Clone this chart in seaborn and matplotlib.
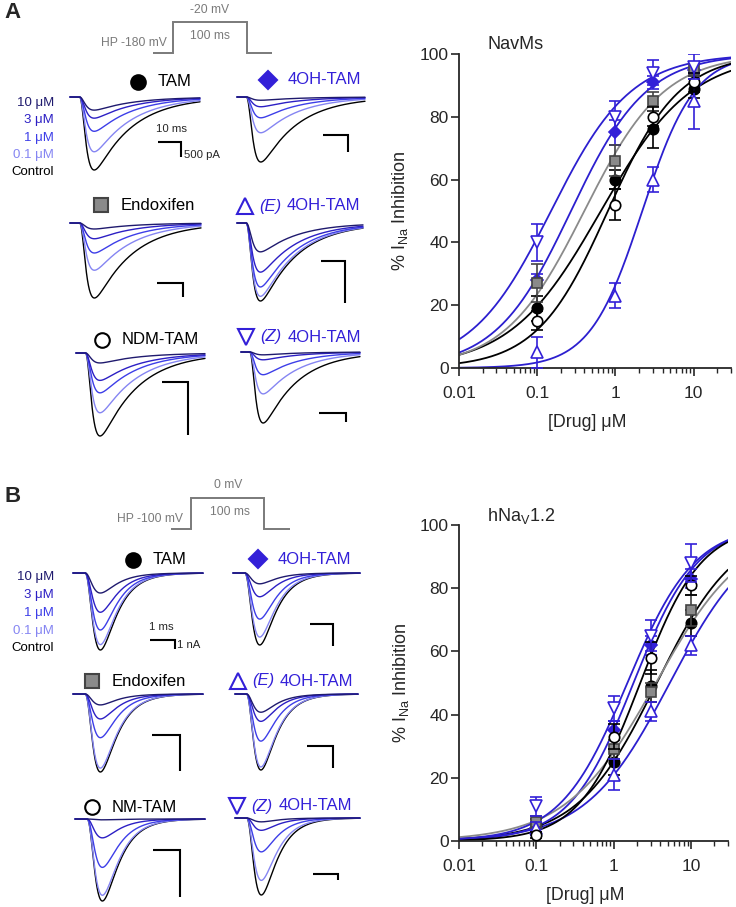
import numpy as np
import pandas as pd
import matplotlib
matplotlib.use('Agg')
import matplotlib.pyplot as plt
from matplotlib.ticker import FixedLocator, FixedFormatter, LogLocator, NullFormatter
import seaborn as sns

sns.set_style('ticks')
plt.rcParams['font.family'] = ['Liberation Sans', 'DejaVu Sans']
plt.rcParams['mathtext.fontset'] = 'custom'
plt.rcParams['mathtext.rm'] = 'Liberation Sans'
plt.rcParams['mathtext.it'] = 'Liberation Sans:italic'

W, H = 736, 907

#region data
conc = [0.1, 1, 3, 10]
trace_levels = ['Control', '0.1 μM', '1 μM', '3 μM', '10 μM']

navms_drugs = ['TAM', '4OH-TAM', 'Endoxifen', '(E) 4OH-TAM', 'NDM-TAM', '(Z) 4OH-TAM']
hnav_drugs = ['TAM', '4OH-TAM', 'Endoxifen', '(E) 4OH-TAM', 'NM-TAM', '(Z) 4OH-TAM']

# % inhibition, rows follow the drug lists
navms_mean = np.array([
    [19, 60, 76, 89],
    [28, 75, 91, 95],
    [27, 66, 85, 95],
    [5, 23, 60, 85],
    [15, 52, 80, 91],
    [40, 80, 94, 96],
])
navms_sem = np.array([
    [4, 3, 6, 3],
    [2, 4, 2, 2],
    [6, 5, 3, 2],
    [5, 4, 4, 9],
    [3, 5, 3, 3],
    [6, 5, 4, 4],
])
navms_ic50 = [0.65, 0.27, 0.4, 2.2, 0.8, 0.15]
navms_hill = [0.75, 0.9, 0.85, 1.3, 0.95, 0.85]

hnav_mean = np.array([
    [5, 25, 49, 69],
    [4, 35, 62, 83],
    [6, 29, 47, 73],
    [4, 21, 41, 62],
    [2, 33, 58, 81],
    [11, 42, 65, 88],
])
hnav_sem = np.array([
    [2, 4, 5, 4],
    [2, 3, 3, 3],
    [2, 3, 3, 5],
    [2, 5, 3, 3],
    [1, 4, 5, 3],
    [3, 4, 5, 6],
])
hnav_ic50 = [3.6, 1.8, 3.5, 5.3, 2.2, 1.5]
hnav_hill = [0.85, 1.05, 0.75, 0.8, 1.1, 1.0]

# representative current traces: peak amplitude relative to control
navms_trace_amp = np.array([
    [1, 0.75, 0.47, 0.29, 0.18],
    [1, 0.55, 0.32, 0.15, 0.05],
    [1, 0.63, 0.40, 0.21, 0.08],
    [1, 0.94, 0.82, 0.63, 0.37],
    [1, 0.72, 0.48, 0.33, 0.12],
    [1, 0.59, 0.32, 0.11, 0.04],
])
hnav_trace_amp = np.array([
    [1, 0.93, 0.74, 0.51, 0.26],
    [1, 0.89, 0.64, 0.33, 0.15],
    [1, 0.95, 0.56, 0.32, 0.14],
    [1, 0.96, 0.62, 0.36, 0.24],
    [1, 0.93, 0.59, 0.23, 0.01],
    [1, 0.81, 0.44, 0.16, 0.05],
])
# gating kinetics (ms): window, onset, tau_m, tau_h
navms_kin = [56, 4, 2.0, 16]
hnav_kin = [5.5, 0.5, 0.33, 0.7]
#endregion data

BLUE = '#3320d8'
CURVE_BLUE = '#2c1fcf'
GREY = '#8a8a8a'
trace_pal = dict(zip(trace_levels, ['black', '#8585f2', '#3d3ee8', '#2c1fc4', '#1f1a6e']))

styles = [
    dict(marker='o', mfc='black', mec='black', ms=7.5, ec='black', lc='black'),
    dict(marker='D', mfc=BLUE, mec=BLUE, ms=6.5, ec=BLUE, lc=CURVE_BLUE),
    dict(marker='s', mfc=GREY, mec='#444444', ms=7, ec='#444444', lc=GREY),
    dict(marker='^', mfc='white', mec=BLUE, ms=8, ec=BLUE, lc=CURVE_BLUE),
    dict(marker='o', mfc='white', mec='black', ms=7.5, ec='black', lc='black'),
    dict(marker='v', mfc='white', mec=BLUE, ms=8, ec=BLUE, lc=CURVE_BLUE),
]


def hill(x, ic50, n):
    return 100.0 / (1.0 + (ic50 / x) ** n)


def ina_shape(t, t0, tm, th):
    s = np.clip(t - t0, 0, None)
    y = -(1 - np.exp(-s / tm)) ** 3 * np.exp(-s / th)
    return y / -y.min()


fig = plt.figure(figsize=(W / 100, H / 100), dpi=100)


def fx(x):
    return x / W


def fy(y):
    return 1 - y / H


def ftext(x, y, s, **kw):
    fig.text(fx(x), fy(y), s, **kw)


def fline(xs, ys, color='black', lw=1.3):
    fig.add_artist(plt.Line2D([fx(v) for v in xs], [fy(v) for v in ys],
                              color=color, lw=lw, transform=fig.transFigure,
                              solid_capstyle='butt', solid_joinstyle='miter'))


def fmark(x, y, marker, ms, fc, ec, mew=1.3):
    fig.add_artist(plt.Line2D([fx(x)], [fy(y)], marker=marker, ms=ms, mfc=fc, mec=ec,
                              mew=mew, ls='none', transform=fig.transFigure))


def trace_panel(x0, x1, base, peak, amps, kin):
    ax = fig.add_axes([fx(x0), fy(peak), (x1 - x0) / W, (peak - base) / H])
    t = np.linspace(0, kin[0], 400)
    shp = ina_shape(t, kin[1], kin[2], kin[3])
    df = pd.concat([pd.DataFrame({'t': t, 'i': a * shp, 'level': lv})
                    for lv, a in zip(trace_levels, amps)])
    sns.lineplot(data=df, x='t', y='i', hue='level', hue_order=trace_levels,
                 palette=trace_pal, estimator=None, legend=False, lw=1.0, ax=ax)
    for ln in ax.lines:
        ln.set_clip_on(False)
    ax.set_xlim(0, kin[0])
    ax.set_ylim(-1, 0)
    ax.axis('off')


def scale_bar(xl, xc, y0, y1):
    fline([xl, xc, xc], [y0, y0, y1], lw=1.5)


def panel_title(x, y, idx, name, color):
    st = styles[idx]
    fmark(x, y, st['marker'], st['ms'] + 3, st['mfc'], st['mec'], mew=1.5)
    if name.startswith('('):
        ftext(x + 14, y, name[:3], color=color, fontsize=12, style='italic', va='center')
        ftext(x + 42, y, name[4:], color=color, fontsize=12, va='center')
    else:
        ftext(x + 20, y, name, color=color, fontsize=12, va='center')


def dose_panel(rect, mean, sem, ic50, hill_n, title):
    ax = fig.add_axes([fx(rect[0]), fy(rect[3]), (rect[2] - rect[0]) / W, (rect[3] - rect[1]) / H])
    ax.set_xscale('log')
    xs = np.logspace(-2, np.log10(30), 300)
    fit_df = pd.concat([pd.DataFrame({'x': xs, 'y': hill(xs, ic50[i], hill_n[i]), 'drug': str(i)})
                        for i in range(len(ic50))])
    sns.lineplot(data=fit_df, x='x', y='y', hue='drug',
                 palette={str(i): s['lc'] for i, s in enumerate(styles)},
                 estimator=None, legend=False, lw=1.3, ax=ax)
    for i, st in enumerate(styles):
        ax.errorbar(conc, mean[i], yerr=sem[i], fmt=st['marker'], ms=st['ms'],
                    mfc=st['mfc'], mec=st['mec'], mew=1.2, ecolor=st['ec'],
                    elinewidth=1.2, capsize=4, capthick=1.2, zorder=3 + i)
    ax.set_xlim(0.01, 30)
    ax.set_ylim(0, 100)
    ax.xaxis.set_major_locator(FixedLocator([0.01, 0.1, 1, 10]))
    ax.xaxis.set_major_formatter(FixedFormatter(['0.01', '0.1', '1', '10']))
    ax.xaxis.set_minor_locator(LogLocator(base=10, subs=np.arange(2, 10)))
    ax.xaxis.set_minor_formatter(NullFormatter())
    ax.set_yticks([0, 20, 40, 60, 80, 100])
    ax.tick_params(which='major', length=6, width=1.2, labelsize=12.5)
    ax.tick_params(axis='x', which='major', pad=7)
    ax.tick_params(axis='y', which='major', pad=1.5)
    ax.tick_params(which='minor', length=3.5, width=1.0)
    sns.despine(ax=ax)
    for sp in ['left', 'bottom']:
        ax.spines[sp].set_linewidth(1.3)
    ax.set_xlabel('[Drug] μM', fontsize=12.8)
    ax.set_ylabel('% I$_{\\mathrm{Na}}$ Inhibition', fontsize=13)
    ax.yaxis.set_label_coords(-0.18, 0.5)
    ax.xaxis.set_label_coords(0.47, -0.145)
    ax.text(0.105, 1.03, title, transform=ax.transAxes, fontsize=13, va='center')
    return ax


# ---------- panel A ----------
ftext(4, 13, 'A', fontsize=16, fontweight='bold', va='center')
fline([153, 173, 173, 247, 247, 272], [53, 53, 22, 22, 53, 53], color='#7a7a7a', lw=1.4)
ftext(167, 43, 'HP -180 mV', fontsize=8.7, color='#7a7a7a', ha='right', va='center')
ftext(210, 10, '-20 mV', fontsize=8.7, color='#7a7a7a', ha='center', va='center')
ftext(210, 36, '100 ms', fontsize=8.7, color='#7a7a7a', ha='center', va='center')

for lv, yy in zip(trace_levels[::-1], [103, 120, 138, 155, 172]):
    ftext(54, yy, lv, fontsize=9.5, color=trace_pal[lv], ha='right', va='center')

a_boxes = [(70, 200, 97, 170), (237, 365, 97, 162), (70, 201, 223, 298),
           (237, 363, 223, 301), (76, 205, 353, 436), (241, 360, 352, 423)]
for i, b in enumerate(a_boxes):
    trace_panel(*b, navms_trace_amp[i], navms_kin)

a_titles = [(138, 82), (268, 80), (101, 205), (245, 206), (102, 340), (246, 337)]
for i, (x, y) in enumerate(a_titles):
    col = 'black' if styles[i]['lc'] != CURVE_BLUE else BLUE
    panel_title(x, y, i, navms_drugs[i], col)

for sb in [(158, 181, 142, 157), (323, 348, 135, 152), (157, 183, 283, 297),
           (321, 345, 261, 303), (162, 188, 382, 435), (319, 346, 413, 422)]:
    scale_bar(*sb)
ftext(172, 129, '10 ms', fontsize=8.2, ha='center', va='center')
ftext(184, 155, '500 pA', fontsize=8.2, ha='left', va='center')

dose_panel((459, 54, 731, 368), navms_mean, navms_sem, navms_ic50, navms_hill, 'NavMs')

# ---------- panel B ----------
ftext(4, 497, 'B', fontsize=16, fontweight='bold', va='center')
fline([171, 191, 191, 264, 264, 290], [529, 529, 498, 498, 529, 529], color='#7a7a7a', lw=1.4)
ftext(183, 519, 'HP -100 mV', fontsize=8.7, color='#7a7a7a', ha='right', va='center')
ftext(228, 485, '0 mV', fontsize=8.7, color='#7a7a7a', ha='center', va='center')
ftext(230, 512, '100 ms', fontsize=8.7, color='#7a7a7a', ha='center', va='center')

for lv, yy in zip(trace_levels[::-1], [577, 595, 613, 631, 648]):
    ftext(54, yy, lv, fontsize=9.5, color=trace_pal[lv], ha='right', va='center')

b_boxes = [(73, 203, 573, 650), (233, 360, 573, 645), (73, 203, 694, 772),
           (235, 358, 694, 770), (75, 205, 819, 901), (235, 360, 818, 895)]
for i, b in enumerate(b_boxes):
    trace_panel(*b, hnav_trace_amp[i], hnav_kin)

b_titles = [(133, 560), (258, 559), (92, 681), (238, 681), (92, 807), (237, 806)]
for i, (x, y) in enumerate(b_titles):
    col = 'black' if styles[i]['lc'] != CURVE_BLUE else BLUE
    panel_title(x, y, i, hnav_drugs[i], col)

for sb in [(150, 175, 640, 649), (310, 333, 624, 646), (152, 180, 735, 771),
           (307, 333, 746, 768), (153, 180, 850, 897), (313, 338, 874, 880)]:
    scale_bar(*sb)
ftext(161, 627, '1 ms', fontsize=8.2, ha='center', va='center')
ftext(177, 645, '1 nA', fontsize=8.2, ha='left', va='center')

dose_panel((459, 525, 728, 841), hnav_mean, hnav_sem, hnav_ic50, hnav_hill, 'hNa$_{\\mathrm{V}}$1.2')

fig.savefig('out.png', dpi=100)
